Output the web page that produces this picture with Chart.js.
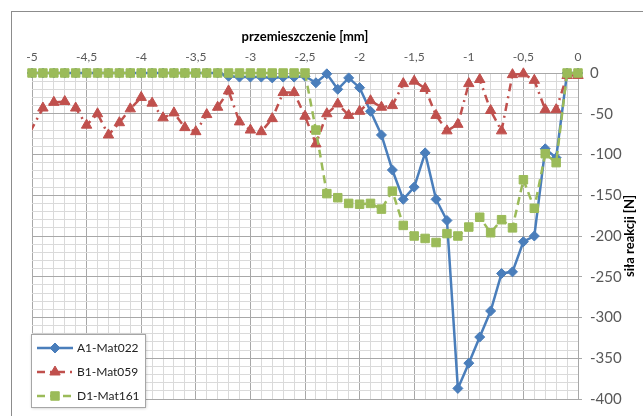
<!DOCTYPE html>
<html>
<head>
<meta charset="utf-8">
<script src="https://cdn.jsdelivr.net/npm/chart.js@4.4.1/dist/chart.umd.min.js"></script>
<style>
  html, body { margin: 0; padding: 0; background: #fff; }
  #wrap { width: 643px; height: 416px; }
</style>
</head>
<body>
<div id="wrap"><canvas id="chart" width="643" height="416"></canvas></div>
<script>
// -----------------------------------------------------------------
// DATA — przemieszczenie [mm] vs siła reakcji [N]
// -----------------------------------------------------------------
const xValues = [
  -5, -4.9, -4.8, -4.7, -4.6, -4.5, -4.4, -4.3, -4.2, -4.1,
  -4, -3.9, -3.8, -3.7, -3.6, -3.5, -3.4, -3.3, -3.2, -3.1,
  -3, -2.9, -2.8, -2.7, -2.6, -2.5, -2.4, -2.3, -2.2, -2.1,
  -2, -1.9, -1.8, -1.7, -1.6, -1.5, -1.4, -1.3, -1.2, -1.1,
  -1, -0.9, -0.8, -0.7, -0.6, -0.5, -0.4, -0.3, -0.2, -0.1, 0,
];

const a1Mat022 = [
  0, 0, 0, 0, 0, 0, 0, 0, 0, 0,
  0, 0, 0, 0, 0, 0, 0, 0, -4, -5,
  -5, -5, -6, -5, -5, -4, -12, -1, -20, -6,
  -18, -47, -76, -119, -155, -140, -98, -155, -181, -387,
  -356, -324, -292, -246, -244, -207, -200, -93, -104, 0, 0,
];

// B1 starts just left of the axis (clipped at -5)
const b1X = [
  -5.1, -4.9, -4.8, -4.7, -4.6, -4.5, -4.4, -4.3, -4.2, -4.1,
  -4, -3.9, -3.8, -3.7, -3.6, -3.5, -3.4, -3.3, -3.2, -3.1,
  -3, -2.9, -2.8, -2.7, -2.6, -2.5, -2.4, -2.3, -2.2, -2.1,
  -2, -1.9, -1.8, -1.7, -1.6, -1.5, -1.4, -1.3, -1.2, -1.1,
  -1, -0.9, -0.8, -0.7, -0.6, -0.5, -0.4, -0.3, -0.2, -0.1, 0,
];

const b1Mat059 = [
  -93, -43, -36, -35, -43, -64, -50, -76, -61, -44,
  -30, -37, -55, -49, -67, -72, -51, -42, -22, -60,
  -70, -72, -56, -24, -24, -53, -87, -50, -38, -52,
  -47, -34, -42, -40, -13, -10, -19, -52, -71, -63,
  -13, -8, -46, -71, -2, -1, -9, -45, -45, -3, -3,
];

const d1Mat161 = [
  0, 0, 0, 0, 0, 0, 0, 0, 0, 0,
  0, 0, 0, 0, 0, 0, 0, 0, 0, 0,
  0, 0, 0, 0, 0, 0, -70, -148, -153, -160,
  -161, -160, -167, -145, -187, -200, -203, -208, -197, -200,
  -189, -177, -196, -180, -190, -131, -166, -99, -110, 0, 0,
];

const seriesNames = ["A1-Mat022", "B1-Mat059", "D1-Mat161"];

const X_MIN = -5, X_MAX = 0, X_STEP = 0.1, X_LABEL_STEP = 0.5;
const Y_MIN = -400, Y_MAX = 0, Y_STEP = 10, Y_LABEL_STEP = 50;

const FONT = "Lato, 'Liberation Sans', sans-serif";
const GRID_MAJOR = "#a8a8a8";
const GRID_MINOR = "#dadada";

// -----------------------------------------------------------------
// HELPERS
// -----------------------------------------------------------------
const toPoints = (xs, ys) => xs.map((x, i) => ({ x, y: ys[i] }));
const isMultiple = (v, step) => Math.abs(v / step - Math.round(v / step)) < 1e-6;
const plFmt = (v) => {
  const r = Math.round(v * 10) / 10;
  return (r === 0 ? "0" : String(r)).replace(".", ",");
};

// -----------------------------------------------------------------
// PLUGINS — frame, rotated y title, legend box
// -----------------------------------------------------------------
const framePlugin = {
  id: "frame",
  beforeDraw(chart) {
    const { ctx } = chart;
    ctx.save();
    ctx.fillStyle = "#fff";
    ctx.fillRect(0, 0, chart.width, chart.height);
    ctx.strokeStyle = "#8c8c8c";
    ctx.lineWidth = 1;
    ctx.strokeRect(11.5, 11.5, chart.width + 20, chart.height + 20);
    ctx.restore();
  },
};

const yTitlePlugin = {
  id: "yTitle",
  afterDraw(chart) {
    const { ctx, chartArea } = chart;
    ctx.save();
    ctx.translate(630, (chartArea.top + chartArea.bottom) / 2);
    ctx.rotate(-Math.PI / 2);
    ctx.font = `bold 13px ${FONT}`;
    ctx.fillStyle = "#000";
    ctx.textAlign = "center";
    ctx.textBaseline = "middle";
    ctx.fillText("siła reakcji [N]", 0, 0);
    ctx.restore();
  },
};

const legendBoxPlugin = {
  id: "legendBox",
  afterDraw(chart) {
    const { ctx } = chart;
    const bx = 31, by = 334, bw = 114, bh = 73;
    ctx.save();
    ctx.shadowColor = "rgba(0,0,0,0.25)";
    ctx.shadowBlur = 3;
    ctx.shadowOffsetX = 1;
    ctx.shadowOffsetY = 1;
    ctx.fillStyle = "#fff";
    ctx.fillRect(bx, by, bw, bh);
    ctx.shadowColor = "transparent";
    ctx.strokeStyle = "#a6a6a6";
    ctx.lineWidth = 1;
    ctx.strokeRect(bx + 0.5, by + 0.5, bw, bh);

    chart.data.datasets.forEach((ds, i) => {
      const y = by + 14 + i * 24;
      ctx.strokeStyle = ds.borderColor;
      ctx.lineWidth = ds.borderWidth;
      ctx.setLineDash(ds.borderDash || []);
      ctx.beginPath();
      ctx.moveTo(37, y);
      ctx.lineTo(73, y);
      ctx.stroke();
      ctx.setLineDash([]);
      ctx.fillStyle = ds.pointBackgroundColor;
      ctx.strokeStyle = ds.pointBorderColor;
      ctx.lineWidth = 1;
      Chart.helpers.drawPoint(ctx, {
        pointStyle: ds.pointStyle, radius: ds.pointRadius, borderWidth: 1, rotation: 0,
      }, 55, y);
      ctx.font = `12px ${FONT}`;
      ctx.fillStyle = "#222";
      ctx.textAlign = "left";
      ctx.textBaseline = "middle";
      ctx.fillText(ds.label, 77, y);
    });
    ctx.restore();
  },
};

// -----------------------------------------------------------------
// CHART
// -----------------------------------------------------------------
const lineDs = (label, data, color, style, radius, dash, order, clip) => ({
  label,
  data,
  borderColor: color,
  backgroundColor: color,
  pointBackgroundColor: color,
  pointBorderColor: color,
  pointStyle: style,
  pointRadius: radius,
  pointBorderWidth: 1,
  borderWidth: 2.5,
  borderDash: dash,
  tension: 0,
  fill: false,
  order,
  clip,
});

new Chart(document.getElementById("chart").getContext("2d"), {
  type: "line",
  data: {
    datasets: [
      lineDs(seriesNames[0], toPoints(xValues, a1Mat022), "#4a7ebb", "rectRot", 5, [], 2,
        { left: 8, top: 8, right: 8, bottom: 8 }),
      lineDs(seriesNames[1], toPoints(b1X, b1Mat059), "#c0504d", "triangle", 6, [8, 5, 2, 5], 1,
        { left: 0, top: 8, right: 8, bottom: 8 }),
      lineDs(seriesNames[2], toPoints(xValues, d1Mat161), "#9bbb59", "rect", 6, [8, 5], 0,
        { left: 8, top: 8, right: 8, bottom: 8 }),
    ],
  },
  options: {
    responsive: false,
    animation: false,
    layout: { padding: { left: 32, top: 0, right: 0, bottom: 8 } },
    plugins: {
      legend: { display: false },
      tooltip: { enabled: false },
    },
    scales: {
      x: {
        type: "linear",
        position: "top",
        min: X_MIN,
        max: X_MAX,
        afterFit: (s) => { s.height = 73; },
        title: {
          display: true,
          text: "przemieszczenie [mm]",
          color: "#000",
          font: { family: FONT, size: 13, weight: "bold" },
          padding: { top: 29, bottom: 0 },
        },
        ticks: {
          stepSize: X_STEP,
          maxTicksLimit: 100,
          autoSkip: false,
          maxRotation: 0,
          padding: 9,
          color: "#595959",
          font: { family: FONT, size: 12 },
          callback: (v) => (isMultiple(v, X_LABEL_STEP) ? plFmt(v) : ""),
        },
        grid: {
          drawTicks: false,
          color: (c) => (isMultiple(c.tick.value, X_LABEL_STEP) ? GRID_MAJOR : GRID_MINOR),
        },
        border: { color: GRID_MAJOR },
      },
      y: {
        type: "linear",
        position: "right",
        min: Y_MIN,
        max: Y_MAX,
        afterFit: (s) => { s.width = 65; },
        ticks: {
          stepSize: Y_STEP,
          maxTicksLimit: 100,
          autoSkip: false,
          padding: 8,
          color: "#595959",
          font: { family: FONT, size: 15 },
          callback: (v) => (isMultiple(v, Y_LABEL_STEP) ? plFmt(v) : ""),
        },
        grid: {
          tickLength: 4,
          color: (c) => (isMultiple(c.tick.value, Y_LABEL_STEP) ? GRID_MAJOR : GRID_MINOR),
          tickColor: (c) => (isMultiple(c.tick.value, Y_LABEL_STEP) ? GRID_MAJOR : "rgba(0,0,0,0)"),
        },
        border: { color: GRID_MAJOR },
      },
    },
  },
  plugins: [framePlugin, yTitlePlugin, legendBoxPlugin],
});
</script>
</body>
</html>
